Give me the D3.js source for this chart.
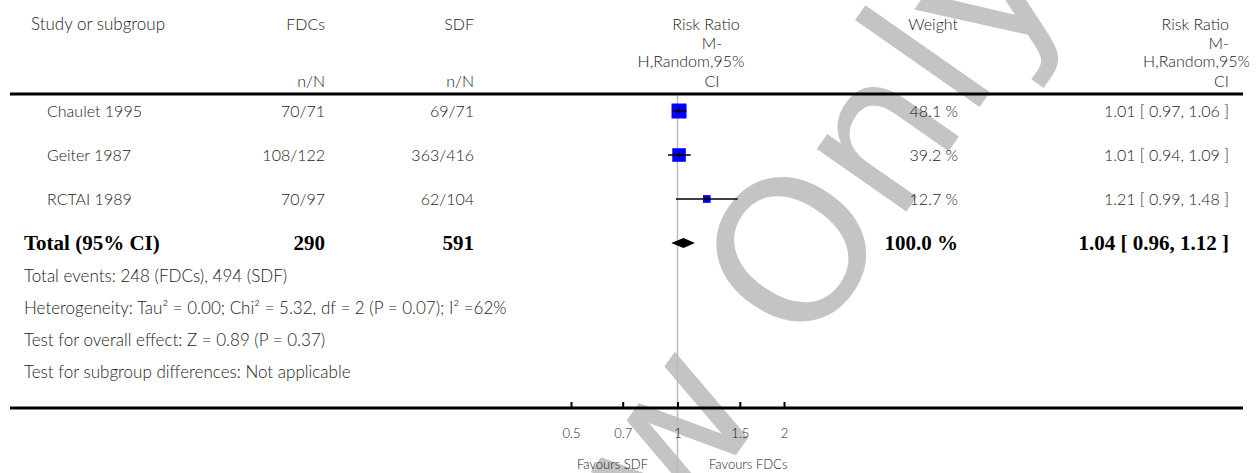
<!DOCTYPE html>
<head>
<style>
  body { margin: 0; background: #fff; }
  svg text { font-family: Lato, "Open Sans", sans-serif; }
</style>
</head>
<body>
<script src="https://cdn.jsdelivr.net/npm/d3@7"></script>
<script>
// data
const studies = ["Chaulet 1995", "Geiter 1987", "RCTAI 1989"];
const fdcs_nN = ["70/71", "108/122", "70/97"];
const sdf_nN = ["69/71", "363/416", "62/104"];
const rr = [1.01, 1.01, 1.21];
const rr_lo = [0.97, 0.94, 0.99];
const rr_hi = [1.06, 1.09, 1.48];
const weights = [48.1, 39.2, 12.7];

const total_label = "Total (95% CI)";
const total_fdcs = 290;
const total_sdf = 591;
const total_rr = 1.04, total_lo = 0.96, total_hi = 1.12;

const notes = [
    "Total events: 248 (FDCs), 494 (SDF)",
    "Heterogeneity: Tau\u00B2 = 0.00; Chi\u00B2 = 5.32, df = 2 (P = 0.07); I\u00B2 =62%",
    "Test for overall effect: Z = 0.89 (P = 0.37)",
    "Test for subgroup differences: Not applicable"
];
const tick_values = [0.5, 0.7, 1, 1.5, 2];
const rr_header = ["Risk Ratio", "M-", "H,Random,95%", "CI"];

let svg_w = 1258, svg_h = 473;
let txt = "#222";
let fs = 16;

let svg = d3.select("body").append("svg")
    .attr("width", svg_w)
    .attr("height", svg_h);

// watermark behind everything
svg.append("text")
    .text("Review Only")
    .attr("transform", "translate(360,992)rotate(-55)")
    .attr("font-size", 200)
    .style("font-family", "'DejaVu Sans', sans-serif")
    .attr("fill", "#c4c4c4");

// scales
let x_scale = d3.scaleLog().domain([0.5, 2]).range([571, 784]);
let row_y = d3.scaleLinear().domain([0, 3]).range([111, 243]);
let note_y = d3.scaleLinear().domain([0, 3]).range([276, 372]);
let sq_size = d3.scaleSqrt().domain([0, 48.1]).range([0, 15]);

// column positions
let col_fdc = 325, col_sdf = 474, col_w = 958, col_ci = 1229;

function label(x, y, t, anchor, size) {
    return svg.append("text").attr("x", x).attr("y", y)
        .attr("text-anchor", anchor || "start")
        .attr("fill", txt).attr("font-size", size || fs)
        .attr("font-weight", 300).text(t);
}

// headers
label(31, 30, "Study or subgroup", "start", 17);
label(col_fdc, 30, "FDCs", "end");
label(col_sdf, 30, "SDF", "end");
label(col_fdc, 87, "n/N", "end");
label(col_sdf, 87, "n/N", "end");
label(col_w, 30, "Weight", "end");

let hdr_y = [30, 49, 67, 87];
let hdr_mid = [706, 712, 691, 712];
let hdr_right = [1229, 1229, 1250, 1229];
rr_header.forEach((t, i) => {
    label(hdr_mid[i], hdr_y[i], t, "middle");
    label(hdr_right[i], hdr_y[i], t, "end");
});

// reference line at 1
svg.append("line")
    .attr("x1", x_scale(1)).attr("x2", x_scale(1))
    .attr("y1", 95).attr("y2", svg_h)
    .attr("stroke", "#bbb").attr("stroke-width", 1.5);

// rules
svg.append("line").attr("x1", 10).attr("x2", 1243).attr("y1", 94).attr("y2", 94)
    .attr("stroke", "#000").attr("stroke-width", 3);
svg.append("line").attr("x1", 10).attr("x2", 1243).attr("y1", 408).attr("y2", 408)
    .attr("stroke", "#000").attr("stroke-width", 3);

// study rows
studies.forEach((s, i) => {
    let y = row_y(i);
    label(47, y + 6, s);
    label(col_fdc, y + 6, fdcs_nN[i], "end");
    label(col_sdf, y + 6, sdf_nN[i], "end");
    label(col_w, y + 6, weights[i].toFixed(1) + " %", "end");
    label(col_ci, y + 6,
        rr[i].toFixed(2) + " [ " + rr_lo[i].toFixed(2) + ", " + rr_hi[i].toFixed(2) + " ]", "end");

    let side = sq_size(weights[i]);
    svg.append("rect")
        .attr("x", x_scale(rr[i]) - side / 2).attr("y", y - side / 2)
        .attr("width", side).attr("height", side)
        .attr("fill", "#0000ff");
    svg.append("line")
        .attr("x1", x_scale(rr_lo[i])).attr("x2", x_scale(rr_hi[i]))
        .attr("y1", y).attr("y2", y)
        .attr("stroke", "#000").attr("stroke-width", 1.5);
    svg.append("line")
        .attr("x1", x_scale(rr[i])).attr("x2", x_scale(rr[i]))
        .attr("y1", y - 3).attr("y2", y + 3)
        .attr("stroke", "#000").attr("stroke-width", 1);
});

// total row
let ty = row_y(3);
let bold = (x, anchor, t) => svg.append("text").attr("x", x).attr("y", ty + 7)
    .attr("text-anchor", anchor).attr("font-size", 21).attr("font-weight", "bold")
    .style("font-family", "'Liberation Serif', serif").attr("fill", "#000").text(t);
bold(24, "start", total_label);
bold(col_fdc, "end", total_fdcs);
bold(col_sdf, "end", total_sdf);
bold(col_w, "end", "100.0 %");
bold(col_ci, "end", total_rr.toFixed(2) + " [ " + total_lo.toFixed(2) + ", " + total_hi.toFixed(2) + " ]");

let diamond = [[x_scale(total_lo), ty], [x_scale(total_rr), ty - 5],
               [x_scale(total_hi), ty], [x_scale(total_rr), ty + 5]];
svg.append("path")
    .attr("d", d3.line()(diamond) + "Z")
    .attr("fill", "#000");

// notes
notes.forEach((n, i) => label(24, note_y(i) + 6, n, "start", 17));

// axis
let x_axis = d3.axisBottom(x_scale)
    .tickValues(tick_values)
    .tickFormat(d3.format("~g"))
    .tickSizeInner(-6).tickSizeOuter(0).tickPadding(21);
let ax = svg.append("g").attr("transform", "translate(0,408)").call(x_axis);
ax.select(".domain").remove();
ax.selectAll(".tick line").attr("stroke", "#000").attr("stroke-width", 2);
ax.selectAll(".tick text").attr("fill", txt).attr("font-size", 13)
    .attr("font-weight", 300).style("font-family", "Lato, sans-serif");

label(648, 469, "Favours SDF", "end", 13);
label(709, 469, "Favours FDCs", "start", 13);
</script>
</body>
